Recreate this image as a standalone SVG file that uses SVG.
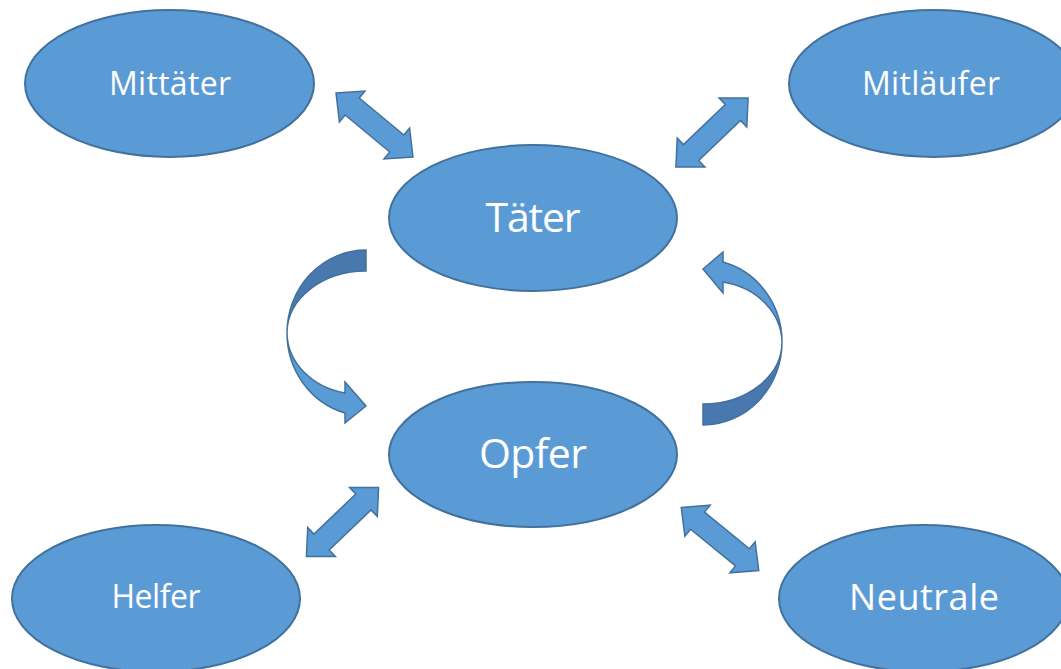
<svg xmlns="http://www.w3.org/2000/svg" xmlns:xlink="http://www.w3.org/1999/xlink" width="1061" height="669" viewBox="0 0 1061 669">
<style>
.node{fill:#5B9BD5;stroke:#41719C;stroke-width:2}
.lbl{font-family:"Open Sans","Liberation Sans",sans-serif;fill:#FFFFFF;text-anchor:middle}
.arr{fill:#5B9BD5;stroke:#41719C;stroke-width:1.5;stroke-linejoin:miter}
.back{fill:#4878AD;stroke:#41719C;stroke-width:1.5}
</style>
<defs>
<path id="dbl" d="M-50,0 L-29,-20 L-29,-11 L29,-11 L29,-20 L50,0 L29,20 L29,11 L-29,11 L-29,20 Z"/>
</defs>
<rect x="0" y="0" width="1061" height="669" fill="#FFFFFF"/>
<g id="connectors">
<use xlink:href="#dbl" class="arr" transform="translate(374.5,125) rotate(39.7)"/>
<use xlink:href="#dbl" class="arr" transform="translate(712,132.5) rotate(-43.8)"/>
<use xlink:href="#dbl" class="arr" transform="translate(342.5,522) rotate(-43.8)"/>
<use xlink:href="#dbl" class="arr" transform="translate(720,539) rotate(39.2)"/>
<path class="back" d="M366,250 A79,83 0 0 0 287,333 A79,62 0 0 1 366,271 Z"/>
<path class="arr" d="M345,413 A79,83 0 0 1 287,333 A72,62 0 0 0 345,393 L345,382 L366,406 L345,423 Z"/>
<path class="back" d="M703,425 A79,83 0 0 0 782,342 A79,62 0 0 1 703,404 Z"/>
<path class="arr" d="M723,262 A79,83 0 0 1 782,342 A72,62 0 0 0 723,282 L723,293 L703,269 L723,252 Z"/>
</g>
<g id="mittaeter">
<ellipse class="node" cx="169.5" cy="83.5" rx="144.5" ry="73.5"/>
<text class="lbl" x="170" y="95" font-size="32" textLength="122">Mittäter</text>
</g>
<g id="mitlaeufer">
<ellipse class="node" cx="933.5" cy="83.5" rx="144.5" ry="73.5"/>
<text class="lbl" x="931" y="95" font-size="32" textLength="138">Mitläufer</text>
</g>
<g id="taeter">
<ellipse class="node" cx="533" cy="218" rx="144" ry="73"/>
<text class="lbl" x="533" y="232" font-size="41" textLength="95">Täter</text>
</g>
<g id="opfer">
<ellipse class="node" cx="533" cy="454.5" rx="144" ry="72.5"/>
<text class="lbl" x="533" y="468" font-size="41" textLength="108">Opfer</text>
</g>
<g id="helfer">
<ellipse class="node" cx="156" cy="598.5" rx="144" ry="73.5"/>
<text class="lbl" x="156" y="608" font-size="32" textLength="89">Helfer</text>
</g>
<g id="neutrale">
<ellipse class="node" cx="923.5" cy="598.5" rx="144.5" ry="73.5"/>
<text class="lbl" x="924" y="610" font-size="36" textLength="150">Neutrale</text>
</g>
</svg>
